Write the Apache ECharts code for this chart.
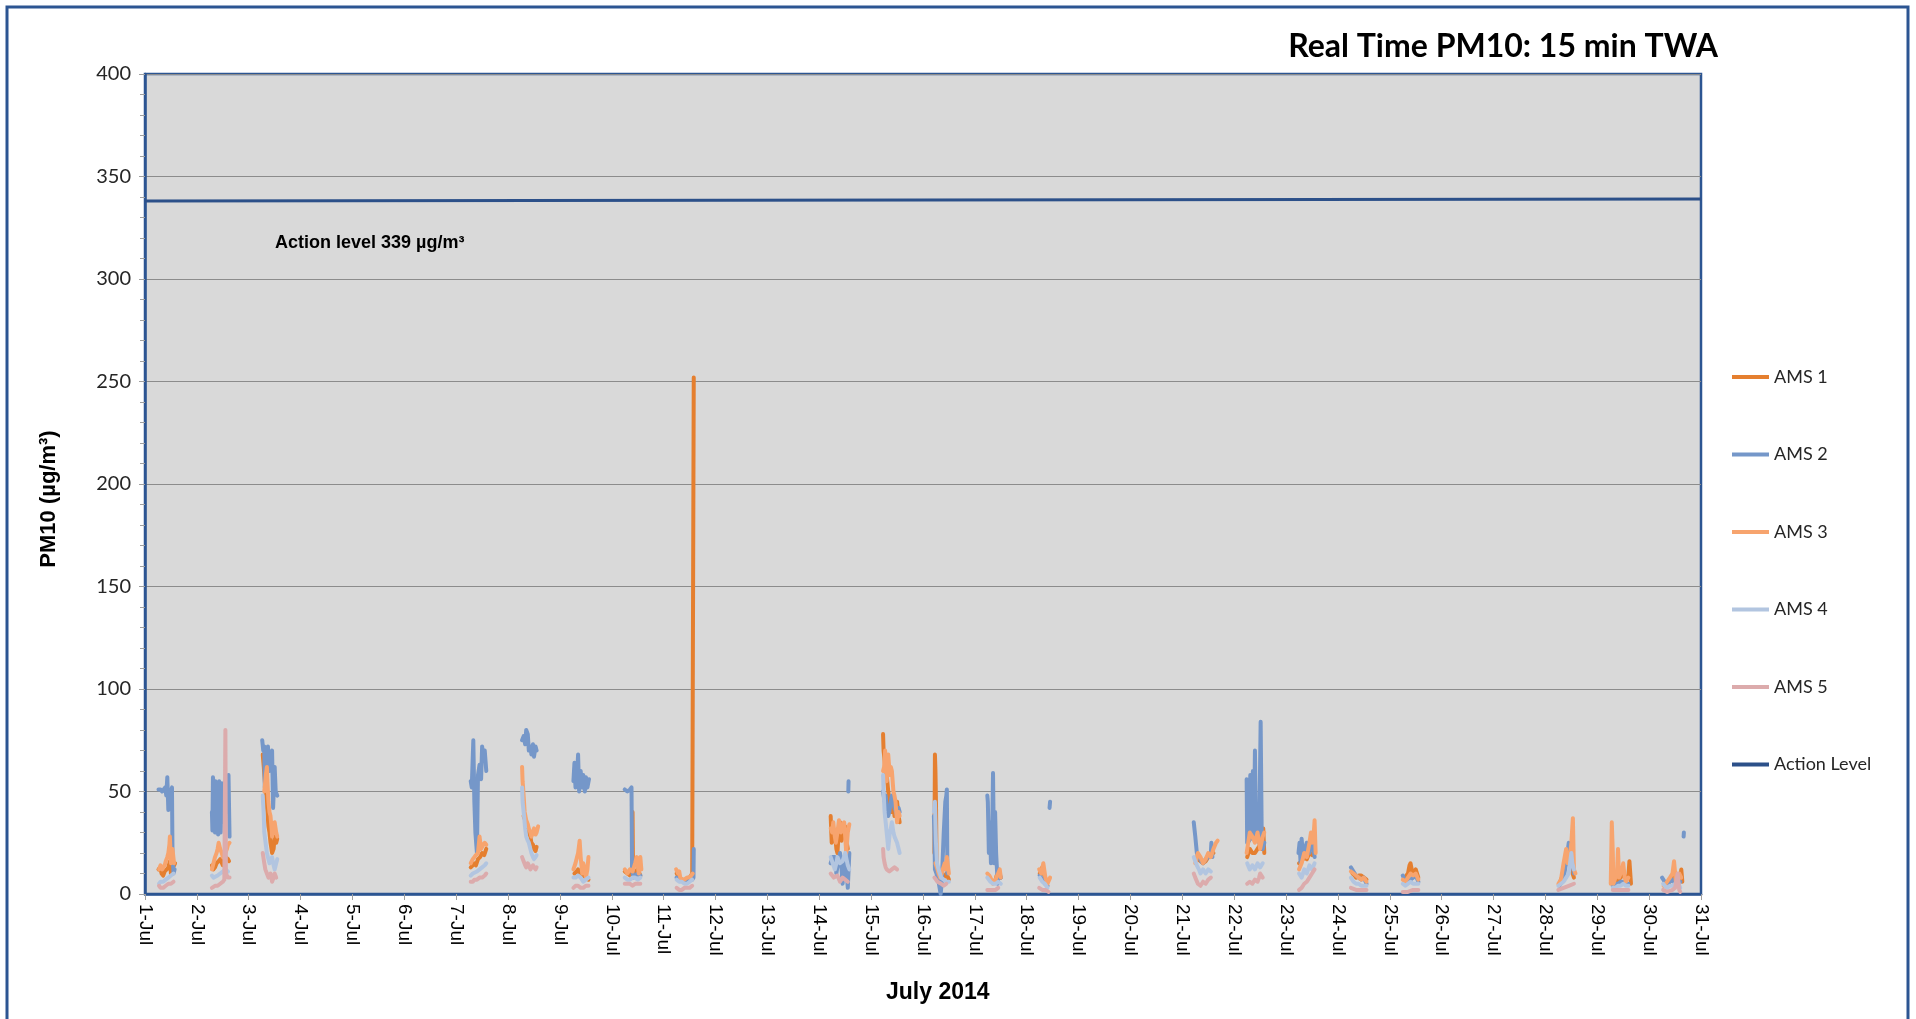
<!DOCTYPE html>
<html>
<head>
<meta charset="utf-8">
<script src="https://cdn.jsdelivr.net/npm/echarts@6/dist/echarts.min.js"></script>
<style>
html, body { margin: 0; padding: 0; background: #fff; }
#pm-chart { width: 1916px; height: 1019px; }
</style>
</head>
<body>
<div id="pm-chart"></div>
<script>
// x = day of July 2014 (fractional), y = PM10 ug/m3, one inner array per monitoring day
var ams1 = [
    [[1.26,12],[1.29,13],[1.32,10],[1.35,9],[1.38,11],[1.42,12],[1.45,13],[1.48,16],[1.5,10],[1.53,12],[1.56,14],[1.58,15]],
    [[2.29,14],[2.32,12],[2.35,13],[2.38,15],[2.42,16],[2.45,17],[2.5,14],[2.55,18],[2.6,17],[2.62,16]],
    [[3.27,68],[3.29,62],[3.31,55],[3.33,48],[3.36,40],[3.38,33],[3.4,30],[3.42,25],[3.45,20],[3.48,22],[3.5,28],[3.53,25],[3.55,27]],
    [[7.28,13],[7.32,14],[7.35,15],[7.38,14],[7.42,17],[7.46,18],[7.5,20],[7.54,19],[7.58,22]],
    [[8.3,38],[8.33,36],[8.35,35],[8.38,32],[8.4,30],[8.43,28],[8.45,25],[8.48,24],[8.5,22],[8.53,21],[8.55,23]],
    [[9.28,10],[9.32,11],[9.35,12],[9.38,10],[9.4,10],[9.45,9],[9.5,8],[9.55,7]],
    [[10.25,11],[10.3,10],[10.35,9],[10.39,10],[10.4,40],[10.41,10],[10.45,11],[10.5,12],[10.55,9]],
    [[11.25,10],[11.3,8],[11.35,7],[11.4,7],[11.45,6],[11.5,8],[11.55,10],[11.575,10],[11.58,252]],
    [[14.22,38],[14.24,25],[14.27,28],[14.3,30],[14.33,22],[14.35,20],[14.38,32],[14.4,35],[14.43,26],[14.45,28],[14.48,30],[14.5,33],[14.53,25],[14.55,22]],
    [[15.23,78],[15.24,70],[15.26,65],[15.28,60],[15.3,58],[15.33,50],[15.36,45],[15.38,42],[15.4,40],[15.43,44],[15.45,38],[15.48,40],[15.5,45],[15.53,38],[15.55,35]],
    [[16.22,20],[16.23,68],[16.24,60],[16.25,45],[16.26,20],[16.27,10],[16.3,8],[16.35,10],[16.4,8],[16.45,10],[16.5,7]],
    [[17.26,8],[17.3,7],[17.35,6],[17.4,7],[17.42,9],[17.46,10],[17.5,8]],
    [[18.25,10],[18.3,13],[18.35,8],[18.4,6]],
    [[21.3,17],[21.35,16],[21.4,15],[21.45,16],[21.5,18],[21.55,19],[21.6,20]],
    [[22.25,18],[22.3,22],[22.35,20],[22.4,20],[22.45,22],[22.5,24],[22.53,22],[22.56,32],[22.58,20]],
    [[23.25,15],[23.3,16],[23.35,18],[23.4,17],[23.45,20],[23.5,19],[23.55,22]],
    [[24.28,10],[24.32,9],[24.35,8],[24.4,9],[24.45,9],[24.5,8],[24.55,7]],
    [[25.28,8],[25.32,9],[25.35,10],[25.38,14],[25.4,15],[25.43,11],[25.45,10],[25.5,12],[25.55,8]],
    [[28.27,5],[28.3,7],[28.35,10],[28.38,14],[28.42,20],[28.45,15],[28.5,12],[28.55,8]],
    [[29.3,5],[29.35,6],[29.4,7],[29.45,8],[29.5,10],[29.55,8],[29.6,9],[29.62,16],[29.65,5]],
    [[30.35,5],[30.4,6],[30.45,8],[30.5,7],[30.55,6],[30.6,8],[30.62,12],[30.64,6]]
];
var ams2 = [
    [[1.26,51],[1.3,51],[1.33,50],[1.36,51],[1.39,52],[1.41,48],[1.43,57],[1.45,41],[1.47,51],[1.5,50],[1.52,52],[1.53,20],[1.55,10],[1.57,12]],
    [[2.29,40],[2.3,31],[2.31,57],[2.33,50],[2.35,30],[2.36,55],[2.39,50],[2.41,29],[2.43,55],[2.46,30],[2.48,54],[2.52,35],[2.55,55],[2.58,40],[2.61,58],[2.63,28]],
    [[3.26,75],[3.28,70],[3.3,72],[3.31,52],[3.33,68],[3.35,65],[3.37,72],[3.4,60],[3.42,68],[3.45,70],[3.47,42],[3.5,62],[3.52,50],[3.55,48]],
    [[7.28,55],[7.3,52],[7.33,75],[7.35,45],[7.37,30],[7.4,20],[7.42,58],[7.45,63],[7.48,56],[7.5,72],[7.53,65],[7.55,70],[7.58,60]],
    [[8.27,75],[8.3,77],[8.33,73],[8.35,80],[8.38,78],[8.4,70],[8.43,72],[8.45,68],[8.48,73],[8.5,67],[8.53,72],[8.55,70]],
    [[9.26,55],[9.28,64],[9.3,52],[9.33,58],[9.35,68],[9.37,50],[9.4,60],[9.43,52],[9.45,58],[9.48,50],[9.5,57],[9.53,52],[9.56,56]],
    [[10.25,51],[10.3,50],[10.35,51],[10.38,52],[10.39,12],[10.42,8],[10.45,8],[10.5,10],[10.55,9]],
    [[11.25,8],[11.3,7],[11.35,7],[11.4,6],[11.45,6],[11.5,7],[11.55,7],[11.575,8],[11.58,22]],
    [[14.22,15],[14.26,18],[14.3,18],[14.33,10],[14.36,15],[14.4,20],[14.43,12],[14.45,5],[14.48,18],[14.5,18],[14.53,10],[14.55,3],[14.58,20]],
    [[14.56,50],[14.565,55]],
    [[15.23,50],[15.26,45],[15.28,48],[15.3,42],[15.33,38],[15.35,40],[15.38,45],[15.4,48],[15.43,45],[15.45,42],[15.48,40],[15.5,38],[15.53,42],[15.55,40]],
    [[16.21,38],[16.22,30],[16.23,12],[16.26,10],[16.3,6],[16.34,0],[16.36,5],[16.4,30],[16.43,45],[16.45,48],[16.46,51],[16.47,10]],
    [[17.24,48],[17.25,45],[17.27,20],[17.29,35],[17.31,15],[17.33,22],[17.35,59],[17.37,15],[17.39,40],[17.41,20],[17.44,5],[17.46,12],[17.5,8]],
    [[18.25,9],[18.3,7],[18.35,5],[18.4,4]],
    [[18.44,42],[18.45,45]],
    [[21.22,35],[21.25,28],[21.28,20],[21.32,18],[21.36,16],[21.4,15],[21.45,17],[21.5,18],[21.55,20],[21.56,25],[21.58,18]],
    [[22.24,56],[22.25,25],[22.27,55],[22.29,26],[22.31,58],[22.33,27],[22.36,60],[22.38,28],[22.4,70],[22.42,30],[22.45,35],[22.48,25],[22.51,84],[22.53,30],[22.55,22],[22.58,25]],
    [[23.24,20],[23.26,25],[23.28,15],[23.3,27],[23.33,18],[23.36,22],[23.4,25],[23.45,20],[23.5,28],[23.55,18]],
    [[24.25,13],[24.3,11],[24.35,9],[24.4,8],[24.45,7],[24.5,8],[24.55,5]],
    [[25.25,9],[25.3,6],[25.35,7],[25.4,7],[25.45,8],[25.5,9],[25.55,6]],
    [[28.27,4],[28.32,6],[28.35,8],[28.4,15],[28.45,25],[28.48,18],[28.5,20],[28.55,10]],
    [[29.3,4],[29.35,5],[29.4,5],[29.45,6],[29.5,6],[29.55,5],[29.6,5]],
    [[30.25,8],[30.3,6],[30.35,5],[30.4,6],[30.45,7],[30.5,5],[30.55,4],[30.6,6]],
    [[30.665,28],[30.67,30]]
];
var ams3 = [
    [[1.27,12],[1.3,14],[1.33,12],[1.35,12],[1.38,14],[1.4,16],[1.43,18],[1.45,20],[1.47,24],[1.48,28],[1.5,15],[1.52,18],[1.53,22],[1.56,15]],
    [[2.29,12],[2.32,15],[2.35,18],[2.38,20],[2.4,22],[2.42,25],[2.45,22],[2.48,20],[2.5,18],[2.53,19],[2.55,20],[2.58,22],[2.6,24],[2.63,25]],
    [[3.3,50],[3.33,58],[3.35,62],[3.37,50],[3.38,45],[3.4,40],[3.42,38],[3.44,32],[3.45,28],[3.48,33],[3.5,35],[3.53,30],[3.55,28]],
    [[7.28,15],[7.32,17],[7.35,18],[7.38,19],[7.42,20],[7.45,28],[7.48,22],[7.52,24],[7.55,25],[7.58,24]],
    [[8.27,62],[8.28,55],[8.29,52],[8.32,40],[8.35,36],[8.38,34],[8.4,32],[8.43,30],[8.45,28],[8.48,30],[8.5,32],[8.53,29],[8.55,30],[8.58,33]],
    [[9.26,12],[9.3,15],[9.33,18],[9.35,20],[9.38,26],[9.4,18],[9.43,10],[9.45,15],[9.48,12],[9.5,8],[9.53,12],[9.55,18]],
    [[10.25,12],[10.3,10],[10.35,12],[10.4,11],[10.45,15],[10.48,18],[10.5,14],[10.52,10],[10.55,18],[10.57,12]],
    [[11.24,12],[11.28,10],[11.3,11],[11.32,8],[11.36,7],[11.4,7],[11.45,8],[11.5,8],[11.56,10]],
    [[14.22,32],[14.25,30],[14.27,35],[14.3,28],[14.32,25],[14.35,30],[14.38,36],[14.4,33],[14.42,30],[14.45,34],[14.48,35],[14.5,28],[14.52,20],[14.55,30],[14.58,34]],
    [[15.23,60],[15.25,62],[15.27,70],[15.3,55],[15.33,68],[15.36,58],[15.38,62],[15.4,60],[15.43,50],[15.45,48],[15.47,45],[15.5,35],[15.53,40],[15.55,38]],
    [[16.24,15],[16.28,12],[16.3,10],[16.33,8],[16.36,10],[16.38,12],[16.42,15],[16.44,12],[16.46,18],[16.5,10]],
    [[17.24,10],[17.28,9],[17.3,8],[17.35,5],[17.4,7],[17.43,9],[17.45,10],[17.48,12],[17.5,8]],
    [[18.24,12],[18.28,10],[18.32,15],[18.36,8],[18.4,5],[18.45,8]],
    [[21.25,15],[21.3,20],[21.35,18],[21.4,15],[21.45,17],[21.5,20],[21.55,18],[21.6,22],[21.65,25],[21.68,26]],
    [[22.24,20],[22.27,25],[22.3,30],[22.35,28],[22.4,25],[22.45,30],[22.5,22],[22.55,28],[22.58,30]],
    [[23.25,12],[23.3,15],[23.35,20],[23.4,18],[23.45,25],[23.48,30],[23.5,25],[23.53,28],[23.55,36],[23.57,20]],
    [[24.25,11],[24.3,10],[24.35,9],[24.4,8],[24.45,7],[24.5,8],[24.55,6]],
    [[25.25,7],[25.3,6],[25.35,8],[25.4,10],[25.45,9],[25.5,10],[25.55,7]],
    [[28.25,5],[28.3,7],[28.35,15],[28.4,22],[28.43,15],[28.45,18],[28.48,20],[28.5,25],[28.53,37],[28.55,12],[28.58,10]],
    [[29.26,5],[29.28,35],[29.3,20],[29.31,5],[29.35,8],[29.38,10],[29.4,22],[29.42,8],[29.45,10],[29.48,12],[29.5,15],[29.53,8],[29.55,6],[29.6,8]],
    [[30.28,4],[30.32,5],[30.35,5],[30.4,8],[30.45,10],[30.48,16],[30.52,5],[30.55,6],[30.58,10],[30.62,8]]
];
var ams4 = [
    [[1.27,5],[1.3,6],[1.35,6],[1.4,7],[1.45,8],[1.5,9],[1.55,10]],
    [[2.29,9],[2.32,8],[2.35,8],[2.4,9],[2.45,10],[2.5,11],[2.55,12],[2.6,11]],
    [[3.27,48],[3.29,38],[3.3,30],[3.33,24],[3.35,20],[3.38,17],[3.4,15],[3.43,16],[3.45,18],[3.48,14],[3.5,12],[3.53,15],[3.55,17]],
    [[7.28,9],[7.32,10],[7.35,10],[7.4,11],[7.45,12],[7.5,13],[7.55,14],[7.58,15]],
    [[8.27,52],[8.28,45],[8.3,40],[8.33,32],[8.35,28],[8.38,26],[8.4,25],[8.43,22],[8.45,20],[8.48,18],[8.5,17],[8.53,18],[8.55,19]],
    [[9.26,8],[9.3,8],[9.35,9],[9.4,8],[9.45,6],[9.5,7],[9.55,8]],
    [[10.25,8],[10.3,7],[10.35,7],[10.4,8],[10.45,8],[10.5,7],[10.55,8]],
    [[11.25,7],[11.3,6],[11.35,6],[11.4,5],[11.45,5],[11.5,6],[11.55,7]],
    [[14.22,18],[14.26,15],[14.3,12],[14.33,15],[14.35,18],[14.4,15],[14.45,16],[14.5,20],[14.55,14],[14.58,12]],
    [[15.23,58],[15.24,50],[15.26,40],[15.28,35],[15.3,30],[15.33,22],[15.36,30],[15.38,32],[15.4,35],[15.43,30],[15.45,28],[15.5,25],[15.55,20]],
    [[16.21,40],[16.23,45],[16.25,25],[16.27,15],[16.3,12],[16.35,8],[16.4,7],[16.45,6],[16.5,6]],
    [[17.24,8],[17.3,6],[17.35,5],[17.4,5],[17.45,6],[17.5,5]],
    [[18.25,8],[18.3,6],[18.35,5],[18.4,3]],
    [[21.22,18],[21.25,16],[21.28,14],[21.32,12],[21.35,10],[21.4,12],[21.45,10],[21.5,12],[21.55,11]],
    [[22.25,15],[22.3,12],[22.35,14],[22.4,12],[22.45,15],[22.5,13],[22.55,15]],
    [[23.25,10],[23.3,8],[23.35,12],[23.4,10],[23.45,14],[23.5,12],[23.55,15]],
    [[24.25,8],[24.3,6],[24.35,5],[24.4,5],[24.45,4],[24.5,4],[24.55,4]],
    [[25.25,5],[25.3,4],[25.35,5],[25.4,6],[25.45,5],[25.5,5],[25.55,5]],
    [[28.25,4],[28.3,5],[28.35,6],[28.4,8],[28.45,10],[28.5,20],[28.52,15],[28.55,12]],
    [[29.3,3],[29.35,3],[29.4,4],[29.45,4],[29.5,5],[29.55,4],[29.6,4]],
    [[30.27,5],[30.3,4],[30.35,3],[30.4,4],[30.45,4],[30.5,5],[30.55,6],[30.6,3]]
];
var ams5 = [
    [[1.27,4],[1.3,3],[1.35,3],[1.4,4],[1.45,5],[1.5,5],[1.55,6]],
    [[2.29,3],[2.35,4],[2.4,4],[2.45,5],[2.5,6],[2.53,7],[2.55,80],[2.56,10],[2.58,9],[2.6,8],[2.63,8]],
    [[3.27,20],[3.3,15],[3.32,12],[3.35,10],[3.38,8],[3.4,9],[3.42,10],[3.45,6],[3.48,8],[3.5,10],[3.53,8]],
    [[7.28,6],[7.32,6],[7.35,7],[7.4,7],[7.45,8],[7.5,8],[7.55,9],[7.58,10]],
    [[8.27,18],[8.3,16],[8.33,14],[8.35,13],[8.38,15],[8.4,14],[8.43,12],[8.45,12],[8.48,14],[8.5,13],[8.53,12],[8.55,13]],
    [[9.26,3],[9.3,4],[9.35,4],[9.4,3],[9.45,3],[9.5,4],[9.55,4]],
    [[10.25,5],[10.3,5],[10.35,5],[10.4,4],[10.45,5],[10.5,5],[10.55,5]],
    [[11.25,3],[11.3,2],[11.35,2],[11.4,3],[11.45,3],[11.5,3],[11.55,4]],
    [[14.22,10],[14.25,9],[14.28,8],[14.3,8],[14.35,9],[14.4,6],[14.45,8],[14.5,7],[14.55,6]],
    [[15.23,22],[15.24,18],[15.26,15],[15.28,13],[15.3,12],[15.35,11],[15.4,12],[15.45,13],[15.5,12]],
    [[16.22,8],[16.25,7],[16.28,6],[16.35,5],[16.4,4],[16.45,5]],
    [[17.24,2],[17.3,2],[17.35,2],[17.4,2],[17.45,3]],
    [[18.24,3],[18.3,2],[18.36,2],[18.42,1]],
    [[21.22,10],[21.25,8],[21.3,5],[21.35,4],[21.4,6],[21.45,5],[21.5,7],[21.55,8]],
    [[22.25,5],[22.3,6],[22.35,5],[22.4,7],[22.45,6],[22.48,8],[22.5,10],[22.55,8]],
    [[23.25,2],[23.3,3],[23.35,5],[23.4,6],[23.45,8],[23.5,10],[23.55,12]],
    [[24.25,3],[24.35,2],[24.45,2],[24.55,2]],
    [[25.25,1],[25.35,1],[25.45,2],[25.55,2]],
    [[28.25,2],[28.35,3],[28.45,4],[28.55,5]],
    [[29.3,2],[29.4,2],[29.5,2],[29.6,2]],
    [[30.27,2],[30.35,1],[30.45,2],[30.5,3],[30.55,10],[30.58,2],[30.6,1]]
];
var actionLevel = [[1, 338], [31, 339]];

var seriesNames = ['AMS 1', 'AMS 2', 'AMS 3', 'AMS 4', 'AMS 5', 'Action Level'];
var seriesColors = ['#e57f2f', '#7597c9', '#f7a46e', '#b2c5e0', '#dcabac', '#2c5089'];

// put a null point between monitoring days so the line breaks
function joinDays(days) {
    var out = [];
    days.forEach(function (d, i) {
        if (i > 0) out.push([d[0][0], null]);
        d.forEach(function (p) { out.push(p); });
    });
    return out;
}

var chart = echarts.init(document.getElementById('pm-chart'));

var series = [ams1, ams2, ams3, ams4, ams5].map(function (days, i) {
    return {
        name: seriesNames[i],
        type: 'line',
        data: joinDays(days),
        showSymbol: false,
        connectNulls: false,
        color: seriesColors[i],
        lineStyle: { width: 4, color: seriesColors[i], cap: 'round', join: 'round' }
    };
});
series.push({
    name: 'Action Level',
    type: 'line',
    data: actionLevel,
    showSymbol: false,
    color: seriesColors[5],
    lineStyle: { width: 3, color: seriesColors[5] }
});

var option = {
    animation: false,
    backgroundColor: '#ffffff',
    title: {
        text: 'Real Time PM10: 15 min TWA',
        right: 193,
        top: 26,
        textStyle: { fontFamily: 'Lato', fontWeight: 'bold', fontSize: 32, color: '#000' }
    },
    legend: {
        orient: 'vertical',
        left: 1727,
        top: 362,
        icon: 'rect',
        itemWidth: 37,
        itemHeight: 4,
        itemGap: 57.5,
        data: seriesNames,
        textStyle: { fontFamily: 'Lato', fontSize: 18, lineHeight: 20, color: '#262626' }
    },
    grid: {
        left: 145,
        right: 215,
        top: 74,
        bottom: 125,
        show: true,
        backgroundColor: '#d9d9d9',
        borderColor: '#2c5592',
        borderWidth: 2.5
    },
    xAxis: {
        type: 'value',
        min: 1,
        max: 31,
        interval: 1,
        axisLine: { show: true, lineStyle: { color: '#2c5592', width: 2.5 } },
        axisTick: { show: true, length: 6, lineStyle: { color: '#a0a0a0' } },
        splitLine: { show: false },
        axisLabel: {
            rotate: -90,
            margin: 10,
            fontFamily: 'Liberation Sans',
            fontSize: 19,
            color: '#000',
            formatter: function (v) { return v + '-Jul'; }
        }
    },
    yAxis: {
        type: 'value',
        min: 0,
        max: 400,
        interval: 50,
        axisLine: { show: true, lineStyle: { color: '#2c5592', width: 2.5 } },
        axisTick: { show: true, length: 6, lineStyle: { color: '#a0a0a0' } },
        minorTick: { show: true, splitNumber: 5, length: 5, lineStyle: { color: '#a0a0a0' } },
        splitLine: { show: true, lineStyle: { color: '#8c8c8c', width: 1.2 } },
        axisLabel: { margin: 14, fontFamily: 'Lato', fontSize: 20, color: '#262626' }
    },
    graphic: [
        {
            type: 'rect',
            silent: true,
            shape: { x: 7, y: 7, width: 1901, height: 1040 },
            style: { fill: 'none', stroke: '#2c5592', lineWidth: 3 }
        },
        {
            type: 'text',
            x: 49,
            y: 499,
            rotation: Math.PI / 2,
            style: {
                text: 'PM10 (µg/m³)',
                font: 'bold 22px "Liberation Sans"',
                fill: '#000',
                textAlign: 'center',
                textVerticalAlign: 'middle'
            }
        },
        {
            type: 'text',
            left: 275,
            top: 234,
            style: { text: 'Action level 339 µg/m³', font: 'bold 18px "Liberation Sans"', fill: '#000' }
        },
        {
            type: 'text',
            left: 886,
            top: 981,
            style: { text: 'July 2014', font: 'bold 23px "Liberation Sans"', fill: '#000' }
        }
    ],
    series: series
};

chart.setOption(option);
</script>
</body>
</html>
